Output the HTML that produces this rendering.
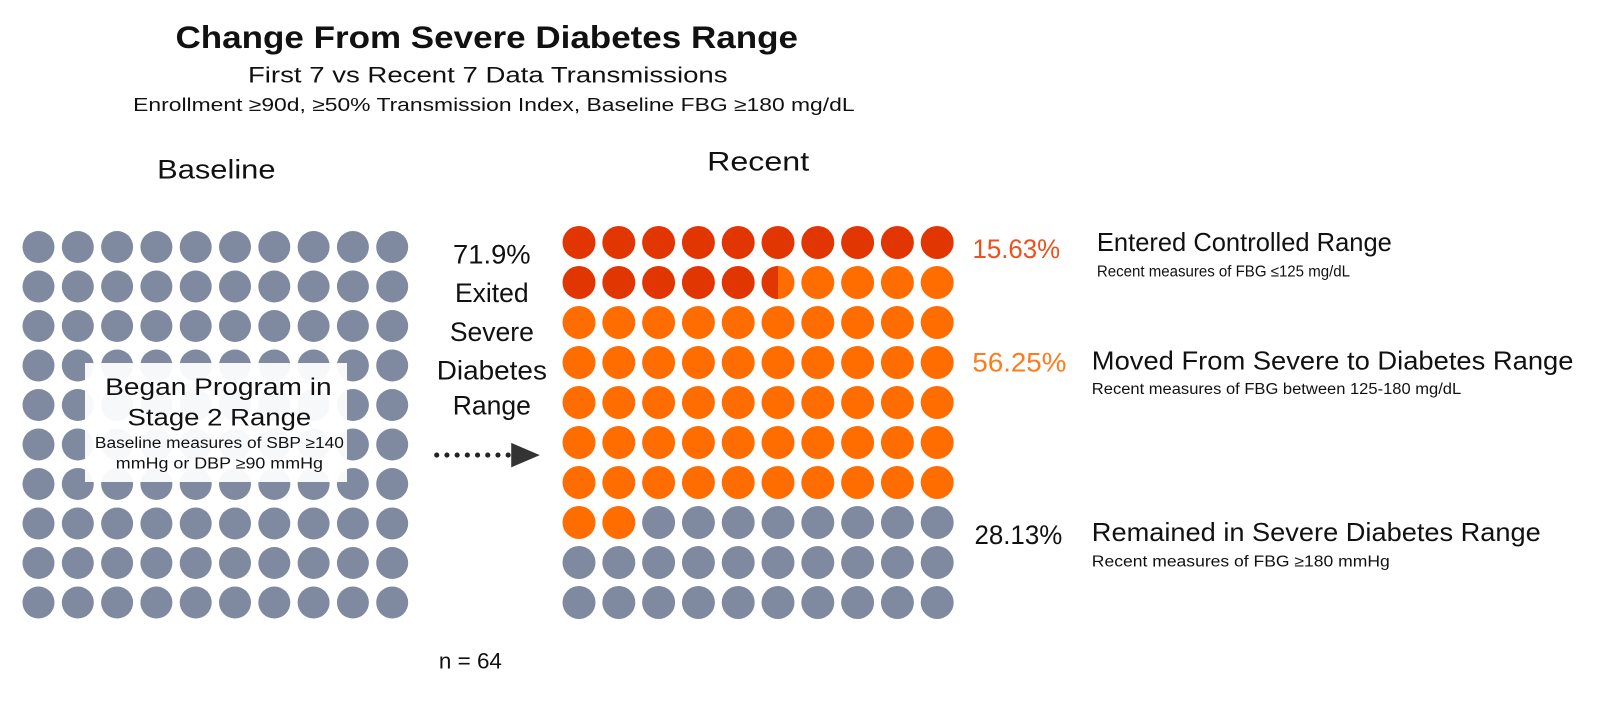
<!DOCTYPE html>
<html><head><meta charset="utf-8"><style>
html,body{margin:0;padding:0;background:#fff;width:1600px;height:702px;overflow:hidden}
svg text{font-family:"Liberation Sans",sans-serif;fill:#111}
</style></head><body>
<svg id="s" width="1600" height="702" xmlns="http://www.w3.org/2000/svg">
<g id="left"></g><g id="right"></g>
<rect x="85" y="363" width="262" height="119" fill="#fff" fill-opacity="0.94"/>
<g transform="scale(1.0204)">
<text x="214" y="387" font-size="24" text-anchor="middle" textLength="222" lengthAdjust="spacingAndGlyphs">Began Program in</text>
<text x="215" y="417" font-size="24" text-anchor="middle" textLength="180" lengthAdjust="spacingAndGlyphs">Stage 2 Range</text>
<text x="215" y="439" font-size="15" text-anchor="middle" textLength="244" lengthAdjust="spacingAndGlyphs">Baseline measures of SBP ≥140</text>
<text x="215" y="459" font-size="15" text-anchor="middle" textLength="203" lengthAdjust="spacingAndGlyphs">mmHg or DBP ≥90 mmHg</text>

<text x="477" y="47" font-size="31" font-weight="bold" text-anchor="middle" textLength="610" lengthAdjust="spacingAndGlyphs">Change From Severe Diabetes Range</text>
<text x="478" y="81" font-size="22" text-anchor="middle" textLength="470" lengthAdjust="spacingAndGlyphs">First 7 vs Recent 7 Data Transmissions</text>
<text x="484" y="109" font-size="18" text-anchor="middle" textLength="707" lengthAdjust="spacingAndGlyphs">Enrollment ≥90d, ≥50% Transmission Index, Baseline FBG ≥180 mg/dL</text>
<text x="212" y="175" font-size="26" text-anchor="middle" textLength="116" lengthAdjust="spacingAndGlyphs">Baseline</text>
<text x="743" y="167" font-size="26" text-anchor="middle" textLength="100" lengthAdjust="spacingAndGlyphs">Recent</text>

<g font-size="26" text-anchor="middle">
<text x="482" y="258" textLength="76" lengthAdjust="spacingAndGlyphs">71.9%</text>
<text x="482" y="296">Exited</text>
<text x="482" y="334">Severe</text>
<text x="482" y="372" textLength="108" lengthAdjust="spacingAndGlyphs">Diabetes</text>
<text x="482" y="406">Range</text>
</g>
<g fill="#222"><circle cx="428" cy="446" r="2.5"/><circle cx="438" cy="446" r="2.5"/><circle cx="448" cy="446" r="2.5"/><circle cx="458" cy="446" r="2.5"/><circle cx="468" cy="446" r="2.5"/><circle cx="478" cy="446" r="2.5"/><circle cx="488" cy="446" r="2.5"/><circle cx="498" cy="446" r="2.5"/>
<polygon points="501,434 529,446 501,458" fill="#333"/></g>
<text x="461" y="655" font-size="22" text-anchor="middle">n = 64</text>

<text x="953" y="253" font-size="26" style="fill:#f0501c" textLength="86" lengthAdjust="spacingAndGlyphs">15.63%</text>
<text x="953" y="364" font-size="26" style="fill:#ff7a1a" textLength="92" lengthAdjust="spacingAndGlyphs">56.25%</text>
<text x="955" y="533" font-size="26" textLength="86" lengthAdjust="spacingAndGlyphs">28.13%</text>

<text x="1075" y="246" font-size="25" textLength="289" lengthAdjust="spacingAndGlyphs">Entered Controlled Range</text>
<text x="1075" y="271" font-size="15" textLength="248" lengthAdjust="spacingAndGlyphs">Recent measures of FBG ≤125 mg/dL</text>
<text x="1070" y="362" font-size="25" textLength="472" lengthAdjust="spacingAndGlyphs">Moved From Severe to Diabetes Range</text>
<text x="1070" y="386" font-size="15" textLength="362" lengthAdjust="spacingAndGlyphs">Recent measures of FBG between 125-180 mg/dL</text>
<text x="1070" y="530" font-size="25" textLength="440" lengthAdjust="spacingAndGlyphs">Remained in Severe Diabetes Range</text>
<text x="1070" y="555" font-size="15" textLength="292" lengthAdjust="spacingAndGlyphs">Recent measures of FBG ≥180 mmHg</text>
</g>
</svg>
<script>
var NS="http://www.w3.org/2000/svg";
var L=document.getElementById("left"),R=document.getElementById("right");
function c(g,x,y,r,f){var e=document.createElementNS(NS,"circle");e.setAttribute("cx",x);e.setAttribute("cy",y);e.setAttribute("r",r);e.setAttribute("fill",f);g.appendChild(e);}
var G="#7f8aa0",RED="#e13502",OR="#ff6d00";
for(var r=0;r<10;r++)for(var k=0;k<10;k++){
 c(L,38.5+k*39.3,247+r*39.5,16,G);
 var i=r*10+k,x=579+k*39.8,y=242.5+r*40,f;
 if(i<15)f=RED;else if(i<72)f=OR;else f=G;
 c(R,x,y,16.5,f);
 if(i==15){var p=document.createElementNS(NS,"path");p.setAttribute("d","M"+x+","+(y-16.5)+" A16.5,16.5 0 0 0 "+x+","+(y+16.5)+" Z");p.setAttribute("fill",RED);R.appendChild(p);}
}
</script>
</body></html>
